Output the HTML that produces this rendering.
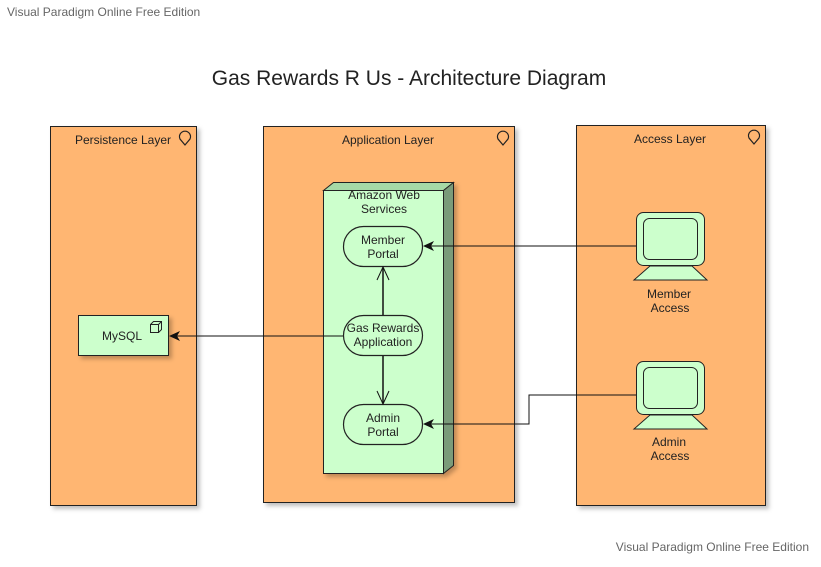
<!DOCTYPE html>
<html><head><meta charset="utf-8"><style>
body{margin:0;background:#fff;}
svg text{font-family:"Liberation Sans",sans-serif;}
</style></head><body>
<svg width="821" height="562" viewBox="0 0 821 562" xmlns="http://www.w3.org/2000/svg">
<defs>
<filter id="sh" x="-10%" y="-10%" width="130%" height="130%"><feDropShadow dx="3" dy="3" stdDeviation="2" flood-color="#000" flood-opacity="0.25"/></filter>
</defs>
<rect width="821" height="562" fill="#fff"/>
<text x="7" y="16" font-size="12" fill="#666">Visual Paradigm Online Free Edition</text>
<text x="809" y="551" font-size="12" fill="#666" text-anchor="end">Visual Paradigm Online Free Edition</text>
<text x="409" y="85" font-size="21" fill="#222" text-anchor="middle">Gas Rewards R Us - Architecture Diagram</text>

<g stroke="#222" stroke-width="1" fill="#ffb672" filter="url(#sh)">
<rect x="50.5" y="126.5" width="146" height="379"/>
<rect x="263.5" y="126.5" width="251" height="376"/>
<rect x="576.5" y="125.5" width="189" height="380"/>
</g>
<g font-size="12" fill="#222" text-anchor="middle">
<text x="123" y="144">Persistence Layer</text>
<text x="388" y="144">Application Layer</text>
<text x="670" y="143">Access Layer</text>
</g>
<g fill="none" stroke="#222" stroke-width="1.2">
<path d="M185 145 l-5 -6 a5.5 5.5 0 1 1 10 0 z"/>
<path d="M503 145 l-5 -6 a5.5 5.5 0 1 1 10 0 z"/>
<path d="M754 144 l-5 -6 a5.5 5.5 0 1 1 10 0 z"/>
</g>

<g stroke="#222" stroke-width="1" filter="url(#sh)">
<polygon points="323.5,190.5 333.5,182.5 453.5,182.5 443.5,190.5" fill="#a6d9a6"/>
<polygon points="443.5,190.5 453.5,182.5 453.5,465.5 443.5,473.5" fill="#7a9b7a"/>
<rect x="323.5" y="190.5" width="120" height="283" fill="#ccffcc"/>
</g>
<g font-size="12" fill="#222" text-anchor="middle">
<text x="384" y="199">Amazon Web</text>
<text x="384" y="213">Services</text>
</g>

<rect x="78.5" y="315.5" width="90" height="40" fill="#ccffcc" stroke="#222" filter="url(#sh)"/>
<text x="122" y="340" font-size="12" fill="#222" text-anchor="middle">MySQL</text>
<g fill="none" stroke="#222"><rect x="150.5" y="324.5" width="8" height="8"/><path d="M150.5 324.5 l3 -3 h8 v8 l-3 3 M158.5 324.5 l3 -3"/></g>

<g fill="#ccffcc" stroke="#222" stroke-width="1.2">
<rect x="343.5" y="226.5" width="79" height="40" rx="20"/>
<rect x="343.5" y="315.5" width="79" height="40" rx="20"/>
<rect x="343.5" y="404.5" width="79" height="40" rx="20"/>
</g>
<g font-size="12" fill="#222" text-anchor="middle">
<text x="383" y="244">Member</text><text x="383" y="258">Portal</text>
<text x="383" y="332">Gas Rewards</text><text x="383" y="346">Application</text>
<text x="383" y="422">Admin</text><text x="383" y="436">Portal</text>
</g>

<g stroke="#111" stroke-width="1" fill="none">
<line x1="383" y1="315" x2="383" y2="268" stroke-width="1.5"/>
<path d="M377 280 l6 -13 l6 13"/>
<line x1="383" y1="356" x2="383" y2="403" stroke-width="1.5"/>
<path d="M377 391 l6 13 l6 -13"/>
<line x1="343" y1="336" x2="170" y2="336"/>
<line x1="636" y1="246" x2="424" y2="246"/>
<path d="M636 395 H529 V424 H424"/>
</g>
<g fill="#111">
<polygon points="169,336 180,331 177,336 180,341"/>
<polygon points="423,246 434,241 431,246 434,251"/>
<polygon points="423,424 434,419 431,424 434,429"/>
</g>

<g stroke="#222" stroke-width="1" fill="#ccffcc">
<rect x="636.5" y="212.5" width="68" height="53" rx="7"/>
<rect x="643.5" y="218.5" width="54" height="41" rx="6"/>
<polygon points="650,266 692,266 707,280 634,280"/>
<rect x="636.5" y="361.5" width="68" height="53" rx="7"/>
<rect x="643.5" y="367.5" width="54" height="41" rx="6"/>
<polygon points="650,415 692,415 707,429 634,429"/>
</g>
<g font-size="12" fill="#222" text-anchor="middle">
<text x="669" y="298">Member</text><text x="670" y="312">Access</text>
<text x="669" y="446">Admin</text><text x="670" y="460">Access</text>
</g>
</svg>
</body></html>
